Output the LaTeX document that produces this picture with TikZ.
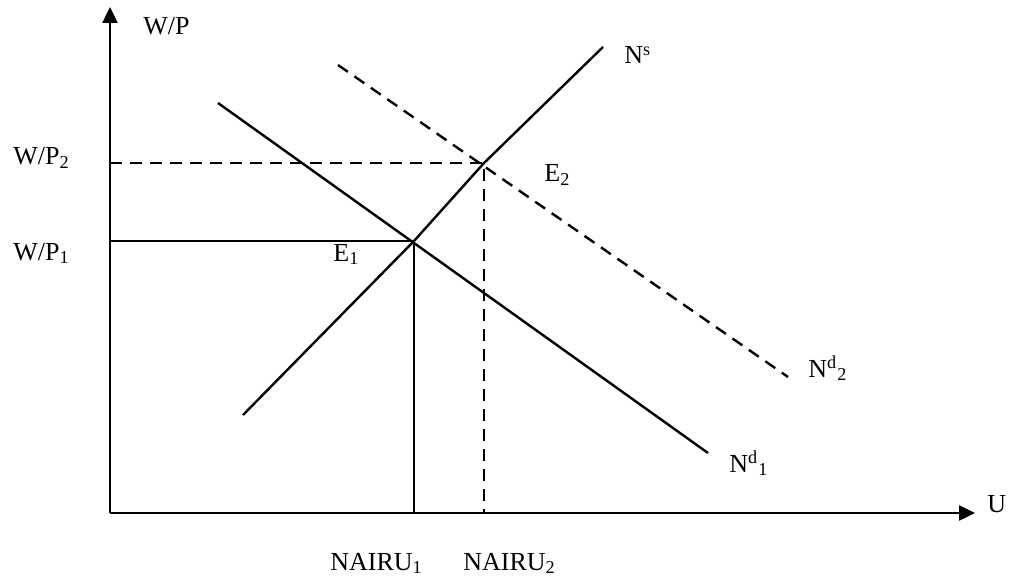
\documentclass[tikz,border=0pt]{standalone}
\usepackage{fontspec}
\setmainfont{Liberation Serif}
\usetikzlibrary{arrows.meta}

\begin{document}
\begin{tikzpicture}[x=0.5pt, y=-0.5pt, >={Triangle[length=8pt,width=7.5pt]},
    curve/.style={line width=1.2pt},
    guide/.style={line width=1.2pt, dash pattern=on 6pt off 4pt},
    lbl/.style={font=\fontsize{13}{15}\selectfont, inner sep=0pt, anchor=base west}]
    \useasboundingbox (0,0) rectangle (1016,577);
    % axes
    \coordinate (O) at (110,513);
    \coordinate (ytip) at (110,7);
    \coordinate (xtip) at (975,513);
    \draw[->, curve] (O) -- (ytip);
    \draw[->, curve] (O) -- (xtip);
    % equilibria
    \coordinate (E1) at (414,241);
    \coordinate (E2) at (484,163);
    \coordinate (W1) at (110,241);
    \coordinate (W2) at (110,163);
    \coordinate (U1) at (414,513);
    \coordinate (U2) at (484,513);
    % curves
    \coordinate (NsA) at (243,415);
    \coordinate (NsB) at (603,47);
    \coordinate (Nd1A) at (218,103);
    \coordinate (Nd1B) at (708,453);
    \coordinate (Nd2A) at (338,65);
    \coordinate (Nd2B) at (788,377);
    \draw[curve] (NsA) -- (E1) -- (E2) -- (NsB);
    \draw[curve] (Nd1A) -- (Nd1B);
    \draw[guide] (Nd2A) -- (Nd2B);
    \draw[curve] (W1) -- (E1) -- (U1);
    \draw[guide] (W2) -- (E2) -- (U2);
    % labels
    \node[lbl] (wp) at (143,35) {W/P};
    \node[lbl] (wp2) at (13,165) {W/P\textsubscript{2}};
    \node[lbl] (wp1) at (13,260) {W/P\textsubscript{1}};
    \node[lbl] (ns) at (624,64) {N\textsuperscript{s}};
    \node[lbl] (e2) at (544,182) {E\textsubscript{2}};
    \node[lbl] (e1) at (333,261) {E\textsubscript{1}};
    \node[lbl] (nd2) at (808,377) {N\textsuperscript{d}\textsubscript{2}};
    \node[lbl] (nd1) at (729,472) {N\textsuperscript{d}\textsubscript{1}};
    \node[lbl] (u) at (987,512) {U};
    \node[lbl] (nairu1) at (330,570) {NAIRU\textsubscript{1}};
    \node[lbl] (nairu2) at (463,570) {NAIRU\textsubscript{2}};
\end{tikzpicture}
\end{document}
